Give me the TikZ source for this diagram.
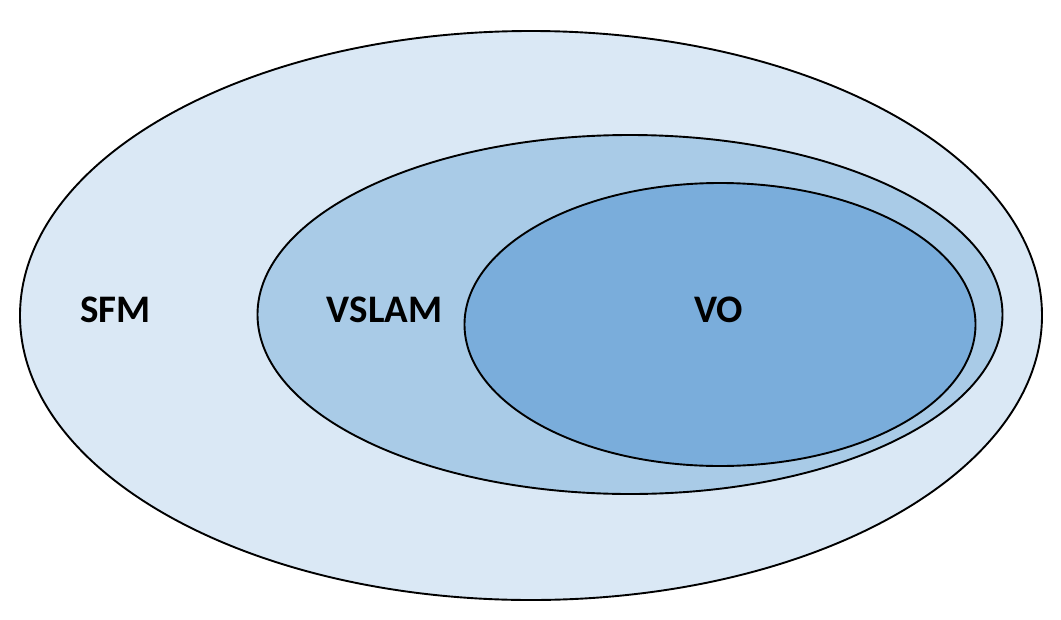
\documentclass[tikz,border=0pt]{standalone}
\usepackage{fontspec}
\setmainfont{Carlito}
\definecolor{sfmblue}{RGB}{218,232,245}
\definecolor{slamblue}{RGB}{169,203,231}
\definecolor{voblue}{RGB}{122,173,219}
\begin{document}
\begin{tikzpicture}[x=1pt,y=-1pt,line width=1.9pt,
  setlabel/.style={font=\fontsize{39}{44}\selectfont\bfseries,inner sep=0pt}]
	\useasboundingbox (0,0) rectangle (1061,619);
	\draw[fill=sfmblue] (531,315.5) ellipse [x radius=511,y radius=284.5];
	\draw[fill=slamblue] (630,314.5) ellipse [x radius=372.5,y radius=179.5];
	\draw[fill=voblue] (720,324.5) ellipse [x radius=255.5,y radius=141.5];
	\node[setlabel] (sfm) at (115.5,309.5) {SFM};
	\node[setlabel] (vslam) at (384.5,309.5) {VSLAM};
	\node[setlabel] (vo) at (719,309.5) {VO};
\end{tikzpicture}
\end{document}
